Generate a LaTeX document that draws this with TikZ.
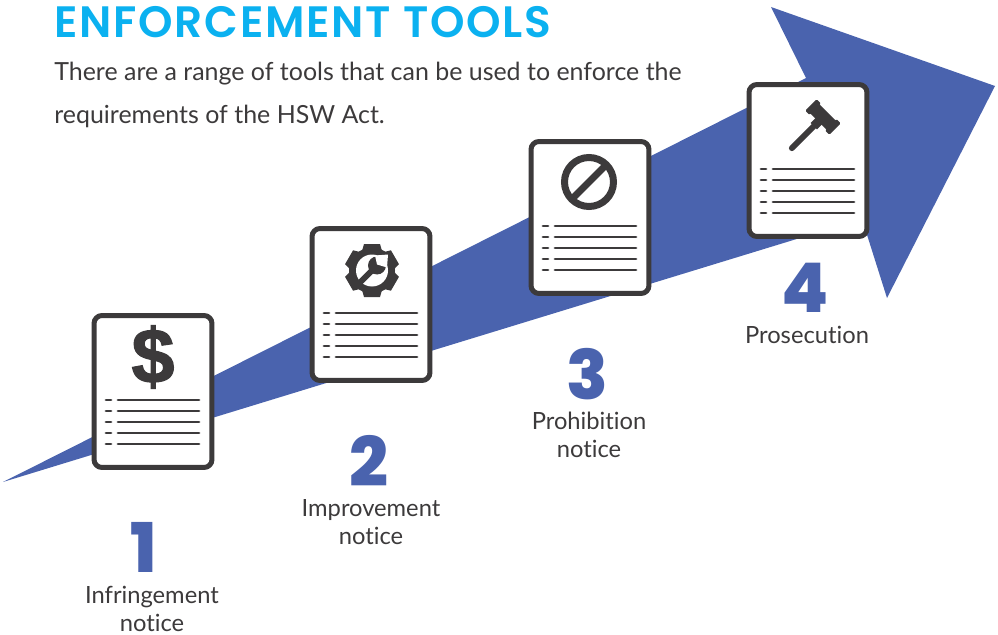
\documentclass[tikz,border=0pt]{standalone}
\usepackage{fontspec}
\setmainfont[Ligatures=NoCommon]{Lato}
\newfontfamily\headfont[LetterSpace=4]{Poppins SemiBold}
\newfontfamily\numfont{Poppins ExtraBold}
\newfontfamily\dollarfont[BoldFeatures={FakeBold=1.6}]{Liberation Sans}
\definecolor{arrowblue}{HTML}{4A63AE}
\definecolor{inkdark}{HTML}{3C3A3B}
\definecolor{headcyan}{HTML}{0BB1F0}
\tikzset{
  cardbox/.style={draw=inkdark,fill=white,line width=0.1cm,rounded corners=0.16cm,minimum width=2.36cm,minimum height=3.04cm,inner sep=0},
  cardline/.style={draw=inkdark,line width=0.056cm,line cap=round},
  bignum/.style={text=arrowblue,font=\numfont\fontsize{39}{39}\selectfont,inner sep=0},
  toollabel/.style={text=inkdark,font=\fontsize{13.5}{16}\selectfont,align=center,inner sep=0},
  introline/.style={text=inkdark,font=\fontsize{14.2}{16}\selectfont,anchor=base west,inner sep=0}
}
\begin{document}
\begin{tikzpicture}[x=0.02cm,y=-0.02cm]
\useasboundingbox (0,0) rectangle (998,635);

% big arrow
\fill[arrowblue] (3,482) -- (798,82) -- (806,78) -- (771,7) -- (995,86) -- (887,298) -- (862,219) -- cycle;

% cards
\foreach \n/\cx/\cy in {1/92/313,2/310/226,3/529/139,4/747/82}{
  \node[cardbox] (card\n) at (\cx+61,\cy+78.5) {};
  \foreach \ly in {87,98,109,120,131}{
    \draw[cardline] (\cx+14,\cy+\ly) -- (\cx+19,\cy+\ly);
    \draw[cardline] (\cx+26,\cy+\ly) -- (\cx+107,\cy+\ly);
  }
}

% icons
\node[text=inkdark,inner sep=0,font=\dollarfont\fontsize{44}{44}\selectfont\bfseries] (dollar) at (153,357) {\$};

\begin{scope}[shift={(372,270.5)}]
\foreach \a in {30,90,150,210,270,330}
  \fill[inkdark,rotate=\a] (16,-11) -- (26.5,-8) -- (26.5,8) -- (16,11) -- cycle;
\fill[inkdark] (0,0) circle [radius=23];
\fill[white] (0,0) circle [radius=16];
\draw[inkdark,line width=0.12cm] (-14,14) -- (3,-3);
\fill[inkdark] (5,-5) circle [radius=9];
\fill[white] (5,-6) -- (15,-3) -- (16,-16) -- (3,-15) -- cycle;
\end{scope}

\draw[inkdark,line width=0.14cm] (589,182) circle [radius=24.5];
\draw[inkdark,line width=0.14cm] (572,199) -- (606,165);

\begin{scope}[shift={(823,117)},rotate=45]
\fill[inkdark,rounded corners=0.02cm] (-6.5,-15) rectangle (6.5,15);
\fill[inkdark,rounded corners=0.02cm] (-8,-17) rectangle (8,-11);
\fill[inkdark,rounded corners=0.02cm] (-8,11) rectangle (8,17);
\fill[inkdark] (-13,-4.5) rectangle (-5,4.5);
\draw[inkdark,line width=0.12cm,line cap=round] (-8,0) -- (-44,0);
\end{scope}

% text
\node[anchor=base west,inner sep=0,text=headcyan,font=\headfont\fontsize{25}{25}\selectfont] (title) at (54,38) {ENFORCEMENT TOOLS};
\node[introline] (intro1) at (54,81) {There are a range of tools that can be used to enforce the};
\node[introline] (intro2) at (54,124) {requirements of the HSW Act.};

\node[bignum] (num1) at (144,547) {1};
\node[bignum] (num2) at (369,461) {2};
\node[bignum] (num3) at (587,374) {3};
\node[bignum] (num4) at (805,288) {4};

\node[toollabel] (lab1) at (152,609) {Infringement\\notice};
\node[toollabel] (lab2) at (371,522) {Improvement\\notice};
\node[toollabel] (lab3) at (589,435) {Prohibition\\notice};
\node[toollabel] (lab4) at (807,335) {Prosecution};
\end{tikzpicture}
\end{document}
